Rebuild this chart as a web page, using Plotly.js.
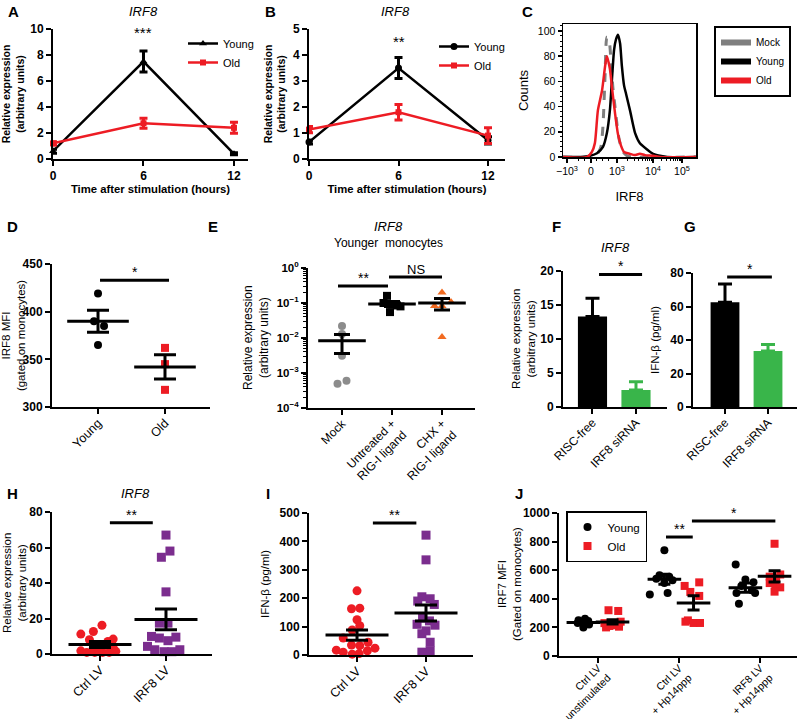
<!DOCTYPE html>
<html><head><meta charset="utf-8">
<script src="https://cdn.plot.ly/plotly-3.0.1.min.js"></script>
<style>html,body{margin:0;padding:0;background:#fff}#chart{width:800px;height:719px}</style>
</head><body><div id="chart"></div>
<script>
// ================= DATA =================
// A
const timeHours = [0, 6, 12];
const aYoungMean = [0.6, 7.5, 0.4];
const aYoungSem  = [0.15, 0.8, 0.08];
const aOldMean   = [1.2, 2.75, 2.4];
const aOldSem    = [0.12, 0.38, 0.42];
// B
const bYoungMean = [0.65, 3.5, 0.72];
const bYoungSem  = [0.07, 0.4, 0.14];
const bOldMean   = [1.13, 1.8, 0.9];
const bOldSem    = [0.12, 0.3, 0.3];
// C (x in display units of the biexponential IRF8 axis)
const cTickPos    = [-0.8, 0, 0.867, 2.067, 3.033];
const cTickLabels = ['−10<sup>3</sup>', '0', '10<sup>3</sup>', '10<sup>4</sup>', '10<sup>5</sup>'];
const cMockX  = [-0.93, -0.03, 0.2, 0.33, 0.4, 0.47, 0.53, 0.6, 0.67, 0.73, 0.8, 0.87, 0.93, 1.0, 1.07, 1.2, 1.4, 3.5];
const cMockY  = [0, 0, 2, 8, 25, 65, 95, 93, 75, 55, 40, 25, 15, 8, 4, 1, 0, 0];
const cYoungX = [-0.93, -0.3, -0.03, 0.2, 0.4, 0.53, 0.63, 0.7, 0.77, 0.83, 0.9, 0.97, 1.03, 1.1, 1.17, 1.3, 1.47, 1.63, 1.87, 2.07, 2.3, 2.53, 3.5];
const cYoungY = [0, 0, 1, 3, 8, 19, 37, 62, 85, 93, 97, 90, 72, 57, 50, 37, 19, 11, 6, 2.5, 1, 0, 0];
const cOldX   = [-0.93, -0.13, 0.03, 0.13, 0.23, 0.37, 0.47, 0.53, 0.63, 0.7, 0.8, 0.9, 1.0, 1.1, 1.3, 1.45, 1.63, 1.8, 2.07, 2.3, 3.5];
const cOldY   = [0, 0, 4, 11, 37, 53, 72, 80, 70, 55, 35, 18, 9, 4, 2.5, 1.5, 2.5, 1.5, 1, 0, 0];
// D
const dCats = ['Young', 'Old'];
const dYoung = [419, 390, 385, 365];
const dYoungJit = [0, -0.06, 0.09, 0];
const dOld = [362, 345, 318];
const dOldJit = [0, 0, 0];
const dMean = [390, 342];
const dSem  = [11.5, 12.7];
// E
const eCats = ['Mock', 'Untreated +<br>RIG-I ligand', 'CHX +<br>RIG-I ligand'];
const eMock = [0.022, 0.013, 0.0031, 0.00049, 0.0006];
const eMockJit = [0, 0, 0, -0.09, 0.09];
const eUntreated = [0.16, 0.1, 0.09, 0.085, 0.08, 0.055];
const eUntreatedJit = [-0.1, -0.17, 0.0, 0.1, 0.17, -0.04];
const eChx = [0.2, 0.082, 0.082, 0.107, 0.0107];
const eChxJit = [0, -0.15, 0, 0.18, 0];
const eMean  = [0.0083, 0.093, 0.10];
const eUpper = [0.0126, 0.11, 0.135];
const eLower = [0.0036, 0.08, 0.063];
// F
const fCats = ['RISC-free', 'IRF8 siRNA'];
const fMean = [13.3, 2.5];
const fSem  = [2.7, 1.2];
// G
const gCats = ['RISC-free', 'IRF8 siRNA'];
const gMean = [62.5, 33.5];
const gSem  = [11, 3.8];
// H
const hCats = ['Ctrl LV', 'IRF8 LV'];
const hCtrl = [11.2, 12.7, 16.2, 8.0, 8.4, 7.1, 3.5, 3.4, 3.9, 1.8, 0.9, 0.9, 0.9, 0.9, 1.5, 2.0];
const hCtrlJit = [-0.29, -0.1, 0.03, -0.16, 0.2, 0.12, -0.1, 0.2, 0.02, -0.29, -0.2, -0.08, 0.04, 0.14, 0.24, -0.02];
const hIrf8 = [67, 58, 54.5, 35, 17.4, 17.4, 9.9, 9.0, 7.5, 9.5, 4.3, 2.4, 1.3, 1.3, 2.4];
const hIrf8Jit = [0, 0.06, -0.07, 0, -0.1, 0.03, -0.22, -0.1, 0.03, 0.15, -0.28, -0.17, -0.03, 0.09, 0.21];
const hMean = [5.4, 19.5];
const hSem  = [1.7, 5.8];
// I
const iCats = ['Ctrl LV', 'IRF8 LV'];
const iCtrl = [226, 163, 165, 124, 103, 88, 60, 45, 35, 33, 24, 17, 15, 10, 5, 3];
const iCtrlJit = [0, -0.08, 0.04, 0, 0.04, -0.07, -0.2, 0.16, -0.08, 0.04, 0.26, -0.3, 0.15, -0.2, 0.03, -0.07];
const iIrf8 = [422, 335, 205, 198, 190, 178, 130, 120, 108, 105, 85, 75, 45, 15, 10];
const iIrf8Jit = [0, 0, -0.06, 0.06, -0.12, 0.12, -0.05, 0.05, -0.13, 0.13, 0, -0.06, 0.06, 0.06, -0.06];
const iMean = [70, 148];
const iSem  = [18, 28];
// J
const jCats = ['Ctrl LV<br>unstimulated', 'Ctrl LV<br>+ Hp14ppp', 'IRF8 LV<br>+ Hp14ppp'];
const jYoung = [[260, 250, 245, 240, 235, 230, 220, 200], [740, 565, 555, 540, 530, 510, 440, 430], [640, 535, 515, 490, 460, 440, 440, 365]];
const jYoungJit = [[0.02, -0.06, 0.06, -0.03, 0.03, -0.07, 0.07, 0], [0, -0.06, 0.06, -0.1, 0.1, 0, 0.04, -0.18], [-0.12, 0, 0.1, -0.05, 0.08, -0.11, 0.12, -0.08]];
const jOld = [[320, 315, 240, 230, 215, 210, 205, 200], [515, 490, 448, 420, 249, 240, 231, 231], [785, 570, 555, 545, 510, 500, 480, 450]];
const jOldJit = [[-0.05, 0.07, 0.1, -0.1, 0.04, -0.04, 0.08, -0.08], [0.07, -0.11, -0.04, 0.07, -0.07, -0.1, 0, 0.08], [0, 0.07, -0.06, 0.02, -0.06, 0.01, 0.07, 0]];
const jYoungMean = [235, 536, 478];
const jYoungSem  = [10, 35, 33];
const jOldMean   = [238, 371, 557];
const jOldSem    = [15, 50, 40];

// ================= STYLE =================
const FONT = 'Liberation Sans, Arial, Helvetica, sans-serif';
const RED = '#ed1c24', PURPLE = '#7b2d8e', ORANGE = '#f26b21', GRAY = '#8c8c8c', GREEN = '#39b54a';
const W = 800, H = 719;
const xd = (a, b) => [a / W, b / W];
const yd = (top, bottom) => [1 - bottom / H, 1 - top / H];
const xid = n => n === 1 ? 'x' : 'x' + n;
const yid = n => n === 1 ? 'y' : 'y' + n;
const boldTick = {family: FONT, size: 12, color: '#000', weight: 'bold'};
const catTick = s => ({family: FONT, size: s, color: '#000'});
function axis(o) {
  return Object.assign({showline: true, linecolor: '#000', linewidth: 2, ticks: 'outside', ticklen: 5, tickwidth: 2,
    tickcolor: '#000', showgrid: false, zeroline: false, fixedrange: true, automargin: false, tickfont: boldTick}, o);
}
const traces = [];
const annotations = [];

function dots(n, cat, jit, ys, symbol, color, size) {
  traces.push({type: 'scatter', mode: 'markers', xaxis: xid(n), yaxis: yid(n),
    x: ys.map((_, i) => cat + jit[i]), y: ys, showlegend: false, hoverinfo: 'skip', cliponaxis: false,
    marker: {symbol, color, size, line: {width: 0}}});
}
function meanSem(n, xs, means, up, down, lineSize, cap) {
  traces.push({type: 'scatter', mode: 'markers', xaxis: xid(n), yaxis: yid(n), x: xs, y: means,
    showlegend: false, hoverinfo: 'skip', cliponaxis: false,
    marker: {symbol: 'line-ew', size: lineSize, color: '#000', line: {width: 3, color: '#000'}},
    error_y: {type: 'data', symmetric: false, array: up, arrayminus: down, width: cap, thickness: 3, color: '#000'}});
}
function sig(n, x0, x1, y, label, yv, size) {
  traces.push({type: 'scatter', mode: 'lines', xaxis: xid(n), yaxis: yid(n), x: [x0, x1], y: [y, y],
    line: {color: '#000', width: 3}, showlegend: false, hoverinfo: 'skip', cliponaxis: false});
  annotations.push({xref: xid(n), yref: yid(n), x: (x0 + x1) / 2, y: yv === undefined ? y : yv, text: label,
    showarrow: false, yanchor: 'bottom', yshift: -2, font: {family: FONT, size: size || 14, color: '#000'}});
}
function paperText(x, y, text, font, angle) {
  annotations.push({xref: 'paper', yref: 'paper', x: x / W, y: 1 - y / H, text, showarrow: false, textangle: angle || 0,
    xanchor: 'center', yanchor: 'middle', font: Object.assign({family: FONT, color: '#000'}, font)});
}

// ---- A ----
traces.push({type: 'scatter', mode: 'lines+markers', name: 'Young', legend: 'legend', xaxis: 'x', yaxis: 'y',
  x: timeHours, y: aYoungMean, cliponaxis: false, line: {color: '#000', width: 2.5},
  marker: {symbol: 'triangle-up', size: 7, color: '#000'},
  error_y: {type: 'data', array: aYoungSem, width: 4, thickness: 3, color: '#000'}});
traces.push({type: 'scatter', mode: 'lines+markers', name: 'Old', legend: 'legend', xaxis: 'x', yaxis: 'y',
  x: timeHours, y: aOldMean, cliponaxis: false, line: {color: RED, width: 2.5},
  marker: {symbol: 'square', size: 6, color: RED},
  error_y: {type: 'data', array: aOldSem, width: 4, thickness: 3, color: RED}});
// ---- B ----
traces.push({type: 'scatter', mode: 'lines+markers', name: 'Young', legend: 'legend2', xaxis: 'x2', yaxis: 'y2',
  x: timeHours, y: bYoungMean, cliponaxis: false, line: {color: '#000', width: 2.5},
  marker: {symbol: 'circle', size: 7, color: '#000'},
  error_y: {type: 'data', array: bYoungSem, width: 4, thickness: 3, color: '#000'}});
traces.push({type: 'scatter', mode: 'lines+markers', name: 'Old', legend: 'legend2', xaxis: 'x2', yaxis: 'y2',
  x: timeHours, y: bOldMean, cliponaxis: false, line: {color: RED, width: 2.5},
  marker: {symbol: 'square', size: 6, color: RED},
  error_y: {type: 'data', array: bOldSem, width: 4, thickness: 3, color: RED}});
// ---- C ----
traces.push({type: 'scatter', mode: 'lines', xaxis: 'x3', yaxis: 'y3', x: cMockX, y: cMockY, showlegend: false, hoverinfo: 'skip',
  line: {color: '#7f7f7f', width: 3, dash: 'dash', shape: 'spline', smoothing: 0.6}});
traces.push({type: 'scatter', mode: 'lines', xaxis: 'x3', yaxis: 'y3', x: cYoungX, y: cYoungY, showlegend: false, hoverinfo: 'skip',
  line: {color: '#000', width: 2.5, shape: 'spline', smoothing: 0.6}});
traces.push({type: 'scatter', mode: 'lines', xaxis: 'x3', yaxis: 'y3', x: cOldX, y: cOldY, showlegend: false, hoverinfo: 'skip',
  line: {color: RED, width: 2.5, shape: 'spline', smoothing: 0.6}});
[['Mock', '#7f7f7f'], ['Young', '#000'], ['Old', RED]].forEach(([nm, c]) => traces.push({type: 'scatter', mode: 'lines',
  name: nm, legend: 'legend3', xaxis: 'x3', yaxis: 'y3', x: [null], y: [null], line: {color: c, width: 6}}));
// ---- D ----
dots(4, 0, dYoungJit, dYoung, 'circle', '#000', 8);
dots(4, 1, dOldJit, dOld, 'square', RED, 8);
meanSem(4, [0, 1], dMean, dSem, dSem, 44, 11);
sig(4, 0.03, 1.06, 433, '*');
// ---- E ----
dots(5, 0, eMockJit, eMock, 'circle', GRAY, 8);
dots(5, 1, eUntreatedJit, eUntreated, 'square', '#000', 8);
dots(5, 2, eChxJit, eChx, 'triangle-up', ORANGE, 8);
meanSem(5, [0, 1, 2], eMean, eUpper.map((u, i) => u - eMean[i]), eLower.map((l, i) => eMean[i] - l), 34, 8);
sig(5, -0.08, 0.92, 0.306, '**', Math.log10(0.306));
sig(5, 0.94, 2.0, 0.553, 'NS', Math.log10(0.553), 13);
// ---- F ----
fMean.forEach((m, i) => traces.push({type: 'bar', xaxis: 'x6', yaxis: 'y6', x: [i], y: [m], width: 0.67, showlegend: false,
  marker: {color: i === 0 ? '#000' : GREEN, line: {width: 0}}, hoverinfo: 'skip',
  error_y: {type: 'data', symmetric: false, array: [fSem[i]], arrayminus: [0], width: 7, thickness: 3, color: i === 0 ? '#000' : GREEN}}));
sig(6, 0.15, 1.14, 19.5, '*');
// ---- G ----
gMean.forEach((m, i) => traces.push({type: 'bar', xaxis: 'x7', yaxis: 'y7', x: [i], y: [m], width: 0.67, showlegend: false,
  marker: {color: i === 0 ? '#000' : GREEN, line: {width: 0}}, hoverinfo: 'skip',
  error_y: {type: 'data', symmetric: false, array: [gSem[i]], arrayminus: [0], width: 7, thickness: 3, color: i === 0 ? '#000' : GREEN}}));
sig(7, 0.05, 1.09, 77.6, '*');
// ---- H ----
dots(8, 0, hCtrlJit, hCtrl, 'circle', RED, 9);
dots(8, 1, hIrf8Jit, hIrf8, 'square', PURPLE, 9);
meanSem(8, [0, 1], hMean, hSem, hSem, 45, 11);
sig(8, 0.15, 0.8, 74, '**');
// ---- I ----
dots(9, 0, iCtrlJit, iCtrl, 'circle', RED, 9);
dots(9, 1, iIrf8Jit, iIrf8, 'square', PURPLE, 9);
meanSem(9, [0, 1], iMean, iSem, iSem, 45, 11);
sig(9, 0.23, 0.86, 465, '**');
// ---- J ----
const jOff = 0.18;
traces.push({type: 'scatter', mode: 'markers', name: 'Young', legend: 'legend4', xaxis: 'x10', yaxis: 'y10',
  x: jYoung.flatMap((g, gi) => g.map((_, k) => gi - jOff + jYoungJit[gi][k])), y: jYoung.flat(),
  marker: {symbol: 'circle', size: 8, color: '#000'}, cliponaxis: false, hoverinfo: 'skip'});
traces.push({type: 'scatter', mode: 'markers', name: 'Old', legend: 'legend4', xaxis: 'x10', yaxis: 'y10',
  x: jOld.flatMap((g, gi) => g.map((_, k) => gi + jOff + jOldJit[gi][k])), y: jOld.flat(),
  marker: {symbol: 'square', size: 8, color: RED}, cliponaxis: false, hoverinfo: 'skip'});
meanSem(10, [0, 1, 2].map(g => g - jOff), jYoungMean, jYoungSem, jYoungSem, 24, 6);
meanSem(10, [0, 1, 2].map(g => g + jOff), jOldMean, jOldSem, jOldSem, 24, 6);
sig(10, 0.84, 1.17, 832, '**');
sig(10, 1.16, 2.19, 944, '*');

// ---- text ----
const letterFont = {size: 15, weight: 'bold'};
[['A', 13, 11], ['B', 270, 11], ['C', 527, 11], ['D', 12, 227], ['E', 213, 227], ['F', 556, 227], ['G', 690, 227],
 ['H', 12, 493], ['I', 268, 493], ['J', 519, 493]].forEach(([t, x, y]) => paperText(x, y, t, letterFont));
const titleFont = {size: 13};
paperText(143, 11, '<i>IRF8</i>', titleFont);
paperText(395, 11, '<i>IRF8</i>', titleFont);
paperText(388, 227, '<i>IRF8</i>', titleFont);
paperText(388, 243, 'Younger  monocytes', {size: 12});
paperText(615, 247, '<i>IRF8</i>', titleFont);
paperText(135, 493, '<i>IRF8</i>', titleFont);
// y-axis titles placed beside their axes
paperText(256, 338, 'Relative expression<br>(arbitrary units)', {size: 12}, -90);
paperText(523, 339, 'Relative expression<br>(arbitrary units)', {size: 11.5}, -90);
paperText(14, 583, 'Relative expression<br>(arbitrary units)', {size: 11.5}, -90);
paperText(509, 584, 'IRF7 MFI<br>(Gated on monocytes)', {size: 11.5}, -90);
annotations.push({xref: 'x', yref: 'y', x: 6, y: 8.9, text: '***', showarrow: false, yanchor: 'bottom', font: {family: FONT, size: 15}});
annotations.push({xref: 'x2', yref: 'y2', x: 6, y: 4.1, text: '**', showarrow: false, yanchor: 'bottom', font: {family: FONT, size: 15}});

// ================= LAYOUT =================
const btitle = (t, s, so) => ({text: t, standoff: so === undefined ? 6 : so, font: {family: FONT, size: s || 10.5, weight: 'bold', color: '#000'}});
const ntitle = (t, s, so) => ({text: t, standoff: so === undefined ? 6 : so, font: {family: FONT, size: s || 11.5, color: '#000'}});
const legendBase = {xanchor: 'left', yanchor: 'top', bgcolor: 'rgba(0,0,0,0)', itemwidth: 30, tracegroupgap: 0, traceorder: 'normal', itemclick: false};
const eMinor = [];
for (let d = -4; d < 0; d++) for (let k = 2; k <= 9; k++) eMinor.push(k * Math.pow(10, d));

const layout = {
  width: W, height: H, margin: {l: 0, r: 0, t: 0, b: 0}, paper_bgcolor: '#fff', plot_bgcolor: 'rgba(0,0,0,0)',
  font: {family: FONT, color: '#000'}, showlegend: true, annotations, hovermode: false,
  legend:  Object.assign({}, legendBase, {x: 183 / W, y: 1 - 29 / H, font: {family: FONT, size: 11}}),
  legend2: Object.assign({}, legendBase, {x: 434 / W, y: 1 - 32 / H, font: {family: FONT, size: 11}}),
  legend3: Object.assign({}, legendBase, {x: 714 / W, y: 1 - 26 / H, font: {family: FONT, size: 10}, borderwidth: 2, bordercolor: '#000', bgcolor: '#fff'}),
  legend4: Object.assign({}, legendBase, {x: 566 / W, y: 1 - 511 / H, font: {family: FONT, size: 11.5}, borderwidth: 1.5, bordercolor: '#000', bgcolor: '#fff'}),
  // A
  xaxis: axis({domain: xd(53, 248), anchor: 'y', range: [0, 12.93], tickvals: timeHours, title: btitle('Time after stimulation (hours)', 11.3, 1)}),
  yaxis: axis({domain: yd(29, 159), anchor: 'x', range: [0, 10], tickvals: [0, 2, 4, 6, 8, 10], title: btitle('Relative expression<br>(arbitrary units)', 10.5, 5)}),
  // B
  xaxis2: axis({domain: xd(309, 505), anchor: 'y2', range: [0, 13.14], tickvals: timeHours, title: btitle('Time after stimulation (hours)', 11.3, 1)}),
  yaxis2: axis({domain: yd(29, 159), anchor: 'x2', range: [0, 5], tickvals: [0, 1, 2, 3, 4, 5], title: btitle('Relative expression<br>(arbitrary units)', 10.5, 5)}),
  // C
  xaxis3: axis({domain: xd(563, 696), anchor: 'y3', range: [-0.933, 3.5], mirror: true, linewidth: 1.5, tickwidth: 1.5, ticklen: 4,
    tickvals: cTickPos, ticktext: cTickLabels, tickfont: catTick(10.5), title: ntitle('IRF8', 13, 16),
    minor: {ticks: 'outside', ticklen: 2, tickwidth: 1, tickcolor: '#000',
      tickvals: [-0.4, -0.2, 0.2, 0.4, 0.6].concat([2,3,4,5,6,7,8,9].map(k => 0.867 + Math.log10(k) * 1.2), [2,3,4,5,6,7,8,9].map(k => 2.067 + Math.log10(k) * 0.966))}}),
  yaxis3: axis({domain: yd(24, 157), anchor: 'x3', range: [0, 105.5], mirror: true, linewidth: 1.5, tickwidth: 1.5, ticklen: 4,
    tickvals: [0, 20, 40, 60, 80, 100], tickfont: catTick(10.5), title: ntitle('Counts', 13, 6),
    minor: {ticks: 'outside', ticklen: 2, tickwidth: 1, tickcolor: '#000', dtick: 4}}),
  // D
  xaxis4: axis({domain: xd(52, 210), anchor: 'y4', range: [-0.687, 1.672], tickvals: [0, 1], ticktext: dCats, tickangle: -45, tickfont: catTick(12.5), ticklabelstandoff: -3}),
  yaxis4: axis({domain: yd(264, 407), anchor: 'x4', range: [300, 450], tickvals: [300, 350, 400, 450], title: ntitle('IRF8 MFI<br>(gated on monocytes)', 11.5, 6)}),
  // E
  xaxis5: axis({domain: xd(308, 475), anchor: 'y5', range: [-0.68, 2.66], tickvals: [0, 1, 2], ticktext: eCats, tickangle: -45, tickfont: catTick(12), ticklabelstandoff: -3}),
  yaxis5: axis({domain: yd(268, 408), anchor: 'x5', type: 'log', range: [-4, 0], tickvals: [1e-4, 1e-3, 1e-2, 1e-1, 1],
    ticktext: ['10<sup>−4</sup>', '10<sup>−3</sup>', '10<sup>−2</sup>', '10<sup>−1</sup>', '10<sup>0</sup>'], tickfont: Object.assign({}, boldTick, {size: 11.5}),
    minor: {ticks: 'outside', ticklen: 3, tickwidth: 1, tickcolor: '#000', tickvals: eMinor}}),
  // F
  xaxis6: axis({domain: xd(563, 667), anchor: 'y6', range: [-0.678, 1.713], tickvals: [0, 1], ticktext: fCats, tickangle: -45, tickfont: catTick(12), ticklabelstandoff: -3}),
  yaxis6: axis({domain: yd(271, 407), anchor: 'x6', range: [0, 20], tickvals: [0, 5, 10, 15, 20]}),
  // G
  xaxis7: axis({domain: xd(693, 797), anchor: 'y7', range: [-0.744, 1.674], tickvals: [0, 1], ticktext: gCats, tickangle: -45, tickfont: catTick(12), ticklabelstandoff: -3}),
  yaxis7: axis({domain: yd(273, 407), anchor: 'x7', range: [0, 80], tickvals: [0, 20, 40, 60, 80], title: ntitle('IFN-β (pg/ml)', 11.5, 8)}),
  // H
  xaxis8: axis({domain: xd(52, 212), anchor: 'y8', range: [-0.727, 1.697], tickvals: [0, 1], ticktext: hCats, tickangle: -45, tickfont: catTick(12.5), ticklabelstandoff: -3}),
  yaxis8: axis({domain: yd(512, 654), anchor: 'x8', range: [0, 80], tickvals: [0, 20, 40, 60, 80]}),
  // I
  xaxis9: axis({domain: xd(309, 473), anchor: 'y9', range: [-0.696, 1.681], tickvals: [0, 1], ticktext: iCats, tickangle: -45, tickfont: catTick(12.5), ticklabelstandoff: -3}),
  yaxis9: axis({domain: yd(513, 655), anchor: 'x9', range: [0, 500], tickvals: [0, 100, 200, 300, 400, 500], title: ntitle('IFN-β (pg/ml)', 11.5, 8)}),
  // J
  xaxis10: axis({domain: xd(559, 797), anchor: 'y10', range: [-0.481, 2.457], tickvals: [0, 1, 2], ticktext: jCats, tickangle: -45, tickfont: catTick(10.5), ticklabelstandoff: -5}),
  yaxis10: axis({domain: yd(513, 656), anchor: 'x10', range: [0, 1000], tickvals: [0, 200, 400, 600, 800, 1000]})
};

Plotly.newPlot('chart', traces, layout, {staticPlot: true, displayModeBar: false});
</script>
</body></html>
